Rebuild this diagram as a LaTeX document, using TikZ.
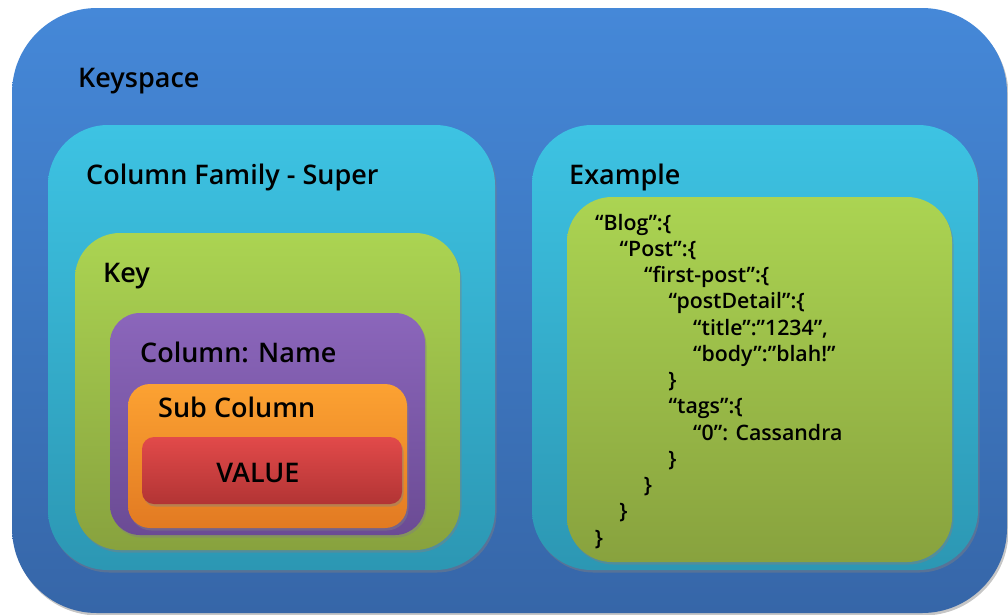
\documentclass[tikz,border=0pt]{standalone}
\usepackage{fontspec}
\setmainfont{Open Sans}[BoldFont=*-Semibold, BoldFeatures={FakeBold=0}]
\usetikzlibrary{shadows}

\definecolor{ksbluetop}{HTML}{4588D8}
\definecolor{ksbluebot}{HTML}{3666A8}
\definecolor{cftop}{HTML}{3DC3E3}
\definecolor{cfbot}{HTML}{2C97B3}
\definecolor{keytop}{HTML}{ABD452}
\definecolor{keybot}{HTML}{88A23E}
\definecolor{coltop}{HTML}{8B66BB}
\definecolor{colbot}{HTML}{6B4B94}
\definecolor{subtop}{HTML}{FCA232}
\definecolor{subbot}{HTML}{E27A22}
\definecolor{valtop}{HTML}{E24A4A}
\definecolor{valbot}{HTML}{B23434}

\begin{document}
\begin{tikzpicture}[x=1pt,y=-1pt,
		box/.style={rounded corners=#1, drop shadow={shadow xshift=1.5pt, shadow yshift=-2.5pt, opacity=.45}},
		title/.style={anchor=base west, inner sep=0pt, font=\fontsize{27}{32}\selectfont\bfseries},
		code/.style={anchor=base west, inner sep=0pt, font=\fontsize{21.3}{25}\selectfont\bfseries}]
		\useasboundingbox (0,0) rectangle (1008,614);
		% keyspace
		\path[box=85, top color=ksbluetop, bottom color=ksbluebot] (12,8) rectangle (1007,613);
		\node[title] (keyspace) at (78,87) {Keyspace};
		% column family and example
		\path[box=60, top color=cftop, bottom color=cfbot] (48,125) rectangle (495,570);
		\node[title] (family) at (86,184) {Column Family - Super};
		\path[box=60, top color=cftop, bottom color=cfbot] (532,125) rectangle (978,570);
		\node[title] (example) at (569,184) {Example};
		% key
		\path[box=45, top color=keytop, bottom color=keybot] (75,233) rectangle (460,550);
		\node[title] (key) at (103,282) {Key};
		\path[box=30, top color=coltop, bottom color=colbot] (110,313) rectangle (425,535);
		\node[title] (column) at (140,362) {Column: Name};
		\path[box=22, top color=subtop, bottom color=subbot] (128,384) rectangle (407,528);
		\node[title] (subcolumn) at (158,417) {Sub Column};
		\path[box=12, top color=valtop, bottom color=valbot] (142,437) rectangle (402,504);
		\node[title, anchor=base] (value) at (258,482) {VALUE};
		% json
		\path[box=45, top color=keytop, bottom color=keybot] (567,197) rectangle (952,562);
		\foreach \n/\lev/\txt in {1/0/{“Blog”:\{}, 2/1/{“Post”:\{}, 3/2/{“first-post”:\{},
			4/3/{“postDetail”:\{}, 5/4/{“title”:”1234”,}, 6/4/{“body”:”blah!”}, 7/3/{\}},
			8/3/{“tags”:\{}, 9/4/{“0”: Cassandra}, 10/3/{\}}, 11/2/{\}}, 12/1/{\}}, 13/0/{\}}}{
			\node[code] (line\n) at (595+24.5*\lev, 230+26.25*\n-26.25) {\txt};
		}
\end{tikzpicture}
\end{document}
